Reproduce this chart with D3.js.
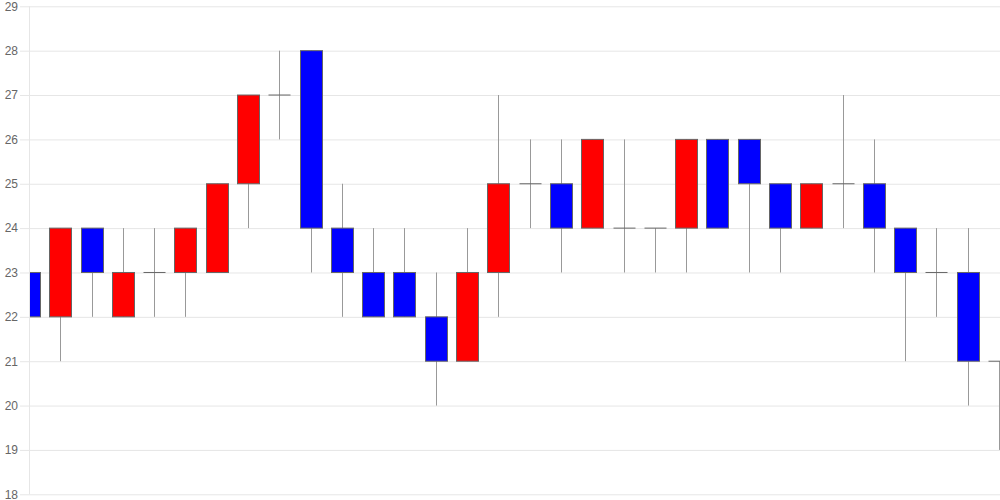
<!DOCTYPE html>
<html>
<head>
<meta charset="utf-8">
<script src="https://cdn.jsdelivr.net/npm/d3@7"></script>
<style>
  html, body { margin: 0; padding: 0; background: #fff; }
  svg { display: block; }
</style>
</head>
<body>
<div id="chart"></div>
<script>
// set the dimensions and margins of the graph
var width = 1000
var height = 500
var margin = {top: 6.3, right: 0, bottom: 5.7, left: 30}

// candle values, one entry per period
var opens  = [23, 22, 24, 22, 23, 23, 23, 25, 27, 28, 24, 23, 23, 22, 21, 23, 25, 25, 24, 24, 24, 24, 26, 26, 25, 24, 25, 25, 24, 23, 23, 21]
var highs  = [23, 24, 24, 24, 24, 24, 25, 27, 28, 28, 25, 24, 24, 23, 24, 27, 26, 26, 26, 26, 24, 26, 26, 26, 25, 25, 27, 26, 24, 24, 24, 21]
var lows   = [21, 21, 22, 22, 22, 22, 23, 24, 26, 23, 22, 22, 22, 20, 21, 22, 24, 23, 24, 23, 23, 23, 24, 23, 23, 24, 24, 23, 21, 22, 20, 19]
var closes = [22, 24, 23, 23, 23, 24, 25, 27, 27, 24, 23, 22, 22, 21, 23, 25, 25, 24, 26, 24, 24, 26, 24, 25, 24, 25, 25, 24, 23, 23, 21, 21]
var yTicks = [18, 19, 20, 21, 22, 23, 24, 25, 26, 27, 28, 29]

var candles = opens.map(function (o, i) {
  return {i: i, open: o, high: highs[i], low: lows[i], close: closes[i]}
})

var svg = d3.select("#chart").append("svg")
    .attr("width", width)
    .attr("height", height)

var x = d3.scaleLinear()
    .domain([0, candles.length - 1])
    .range([margin.left, width - margin.right])

var y = d3.scaleLinear()
    .domain([18, 29])
    .range([height - margin.bottom, margin.top])

// clip so the first and last candles get cut at the edges
svg.append("clipPath").attr("id", "plot")
  .append("rect")
    .attr("x", margin.left)
    .attr("y", 0)
    .attr("width", width - margin.left - margin.right)
    .attr("height", height)

// y axis with grid lines
var yAxis = svg.append("g")
    .attr("transform", "translate(" + margin.left + ",0)")
    .call(d3.axisLeft(y)
      .tickValues(yTicks)
      .tickSize(-(width - margin.left - margin.right))
      .tickPadding(12)
      .tickSizeOuter(0))

yAxis.select(".domain").remove()
yAxis.selectAll(".tick line")
    .attr("x1", -10)
    .attr("stroke", "#e6e6e6")
yAxis.selectAll(".tick text")
    .attr("fill", "#666")
    .style("font-family", "Liberation Sans, Arial, sans-serif")
    .style("font-size", "12px")

svg.append("line")
    .attr("x1", margin.left - 0.5)
    .attr("x2", margin.left - 0.5)
    .attr("y1", margin.top)
    .attr("y2", height - margin.bottom)
    .attr("stroke", "#e6e6e6")

var plot = svg.append("g").attr("clip-path", "url(#plot)")

var bodyWidth = 22
function cx(d) { return Math.round(x(d.i)) - 0.5 }

// wicks
plot.selectAll(".wick")
  .data(candles)
  .enter().append("line")
    .attr("class", "wick")
    .attr("x1", cx)
    .attr("x2", cx)
    .attr("y1", function (d) { return y(d.high) })
    .attr("y2", function (d) { return y(d.low) })
    .attr("stroke", "#999")
    .attr("stroke-width", 1)

// bodies
plot.selectAll(".body")
  .data(candles.filter(function (d) { return d.open !== d.close }))
  .enter().append("rect")
    .attr("class", "body")
    .attr("x", function (d) { return cx(d) - bodyWidth / 2 })
    .attr("y", function (d) { return y(Math.max(d.open, d.close)) })
    .attr("width", bodyWidth)
    .attr("height", function (d) { return Math.abs(y(d.open) - y(d.close)) })
    .attr("fill", function (d) { return d.close > d.open ? "#ff0000" : "#0000ff" })
    .attr("stroke", "#666")
    .attr("stroke-width", 1)

// flat candles (open == close)
plot.selectAll(".doji")
  .data(candles.filter(function (d) { return d.open === d.close }))
  .enter().append("line")
    .attr("class", "doji")
    .attr("x1", function (d) { return cx(d) - bodyWidth / 2 })
    .attr("x2", function (d) { return cx(d) + bodyWidth / 2 })
    .attr("y1", function (d) { return y(d.open) })
    .attr("y2", function (d) { return y(d.open) })
    .attr("stroke", "#666")
    .attr("stroke-width", 1)
</script>
</body>
</html>
